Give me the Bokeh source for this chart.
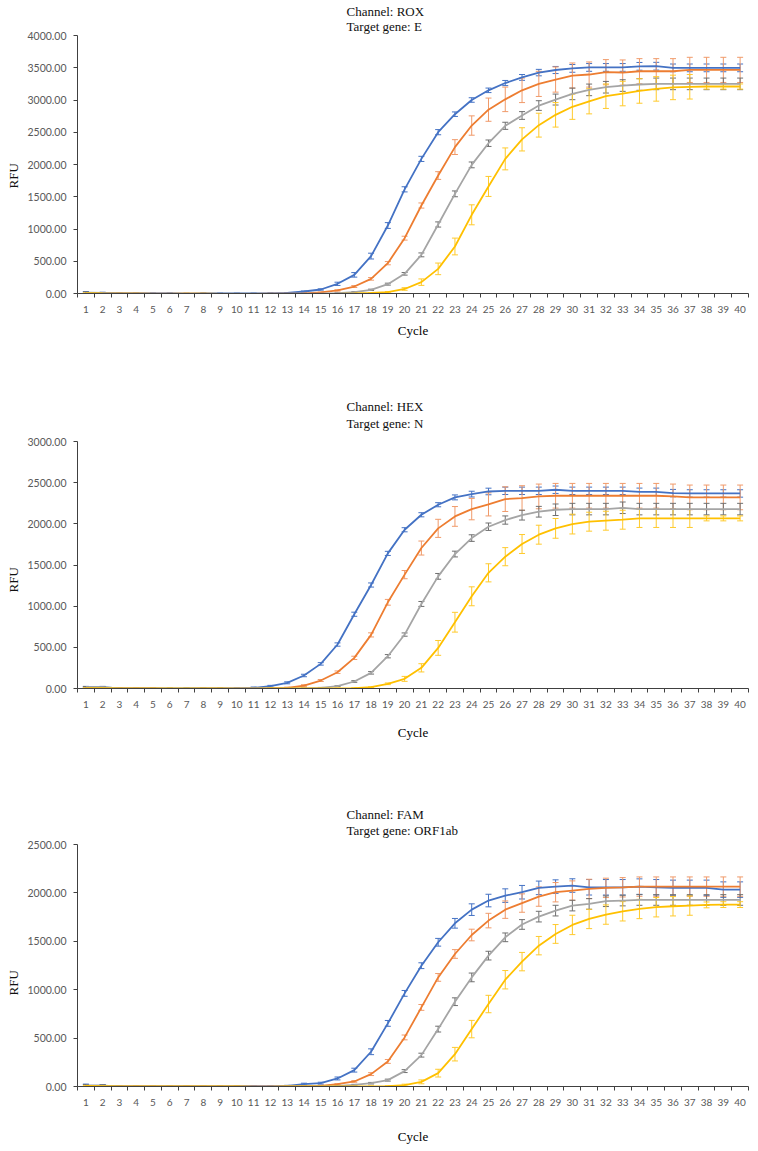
from bokeh.plotting import figure
from bokeh.models import (Range1d, FixedTicker, PrintfTickFormatter, Title,
                          Whisker, TeeHead, ColumnDataSource)
from bokeh.layouts import column
from bokeh.embed import file_html
from bokeh.resources import INLINE

cycles = list(range(1, 41))
cycle_labels = [str(c) for c in cycles]

# ---------------- Channel ROX / gene E ----------------
rox_s1 = [15, 10, 2, 0, 0, 0, -2, 0, 0, 0, 0, 2, 8, 31, 62, 150, 289, 580, 1054, 1615,
          2087, 2501, 2780, 3000, 3150, 3263, 3350, 3425, 3465, 3490,
          3505, 3505, 3505, 3522, 3524, 3498, 3498, 3498, 3498, 3498]
rox_s2 = [0, 0, 0, 0, -3, -3, -3, -3, -5, -5, -5, -3, -2, 3, 18, 47, 108, 227, 470, 858,
          1364, 1829, 2270, 2604, 2850, 3010, 3150, 3250, 3317, 3379,
          3395, 3431, 3426, 3446, 3446, 3446, 3467, 3467, 3467, 3467]
rox_s3 = [10, 5, 0, 0, 0, 0, -5, -5, -3, -3, -3, -3, -3, -3, -2, 5, 20, 57, 145, 305,
          599, 1070, 1545, 1994, 2330, 2600, 2760, 2914, 3007, 3095,
          3157, 3198, 3224, 3240, 3250, 3250, 3250, 3250, 3250, 3250]
rox_s4 = [5, 0, -3, -3, -5, -5, -3, -3, -5, -8, -8, -5, -5, -8, -8, -5, 0, 8, 20, 70,
          176, 382, 729, 1220, 1660, 2087, 2390, 2610, 2770, 2895,
          2980, 3059, 3100, 3140, 3172, 3195, 3205, 3209, 3209, 3209]
rox_s1_sd = [15, 10, 5, 5, 5, 5, 5, 5, 5, 5, 5, 5, 5, 8, 10, 25, 35, 45, 45, 40,
             40, 40, 35, 35, 35, 40, 45, 50, 55, 60,
             60, 60, 60, 60, 60, 60, 60, 60, 60, 60]
rox_s2_sd = [5, 5, 5, 5, 5, 5, 5, 5, 5, 5, 5, 5, 5, 5, 5, 10, 15, 20, 25, 30,
             40, 60, 115, 150, 180, 190, 190, 195, 195, 195,
             195, 195, 195, 195, 195, 195, 195, 195, 195, 195]
rox_s3_sd = [15, 10, 5, 5, 5, 5, 5, 5, 5, 5, 5, 5, 5, 5, 5, 5, 8, 10, 15, 20,
             30, 40, 45, 45, 50, 55, 60, 75, 85, 90,
             90, 90, 90, 90, 90, 90, 90, 90, 90, 90]
rox_s4_sd = [5, 5, 5, 5, 5, 5, 5, 5, 5, 5, 5, 5, 5, 5, 5, 5, 5, 5, 10, 20,
             50, 90, 130, 155, 155, 170, 180, 185, 190, 195,
             195, 190, 190, 190, 190, 190, 190, 40, 40, 40]

# ---------------- Channel HEX / gene N ----------------
hex_s1 = [15, 15, 0, 0, 0, -3, 0, 0, 0, 0, 8, 28, 69, 158, 299, 534, 902, 1257, 1641, 1928,
          2110, 2232, 2321, 2361, 2393, 2401, 2401, 2401, 2414, 2401,
          2401, 2401, 2401, 2389, 2389, 2373, 2369, 2369, 2369, 2369]
hex_s2 = [0, 0, 0, 0, 0, -8, -5, -3, -3, -3, -3, 0, 8, 36, 97, 198, 372, 651, 1047, 1383,
          1706, 1945, 2090, 2179, 2236, 2300, 2313, 2333, 2341, 2341,
          2341, 2341, 2341, 2341, 2341, 2333, 2321, 2321, 2321, 2321]
hex_s3 = [15, 15, 0, 0, 0, 0, -3, 0, 0, 0, 0, 0, 0, 0, 8, 28, 85, 190, 392, 655,
          1027, 1362, 1633, 1827, 1965, 2046, 2106, 2147, 2171, 2179,
          2179, 2179, 2195, 2179, 2179, 2179, 2179, 2179, 2179, 2179]
hex_s4 = [5, 3, 0, 0, 0, 0, 0, 0, 0, -3, -3, 0, 0, 0, 0, 0, 4, 16, 57, 117,
          251, 493, 805, 1120, 1405, 1601, 1755, 1868, 1945, 1997,
          2026, 2038, 2050, 2066, 2066, 2066, 2066, 2066, 2066, 2066]
hex_s1_sd = [10, 10, 5, 5, 5, 5, 5, 5, 5, 5, 10, 10, 12, 15, 15, 20, 25, 25, 25, 25,
             25, 25, 30, 35, 40, 45, 45, 45, 45, 45,
             45, 45, 45, 45, 45, 45, 45, 45, 45, 45]
hex_s2_sd = [5, 5, 5, 5, 5, 5, 5, 5, 5, 5, 5, 5, 8, 10, 12, 15, 20, 25, 35, 50,
             85, 110, 120, 130, 140, 150, 150, 150, 150, 150,
             150, 150, 150, 150, 150, 150, 150, 150, 150, 150]
hex_s3_sd = [10, 10, 5, 5, 5, 5, 5, 5, 5, 5, 5, 5, 5, 5, 5, 5, 10, 15, 20, 20,
             30, 35, 35, 40, 45, 50, 60, 65, 70, 70,
             70, 70, 70, 70, 70, 70, 70, 70, 70, 70]
hex_s4_sd = [5, 5, 5, 5, 5, 5, 5, 5, 5, 5, 5, 5, 5, 5, 5, 5, 5, 5, 10, 30,
             50, 90, 120, 115, 110, 110, 115, 115, 120, 120,
             115, 115, 115, 110, 110, 110, 110, 30, 30, 30]

# ---------------- Channel FAM / gene ORF1ab ----------------
fam_s1 = [10, 10, 0, 0, 0, 0, 0, 0, 0, 0, 3, 0, 7, 24, 34, 83, 169, 359, 652, 962,
          1248, 1490, 1686, 1827, 1921, 1972, 2007, 2052, 2065, 2076,
          2058, 2058, 2058, 2065, 2058, 2052, 2052, 2052, 2034, 2034]
fam_s2 = [-10, 0, 0, 0, 0, 0, 0, 0, 0, 0, 0, 0, 0, 0, 7, 24, 52, 128, 259, 507,
          817, 1127, 1369, 1565, 1714, 1827, 1895, 1962, 2007, 2024,
          2041, 2052, 2058, 2065, 2065, 2065, 2065, 2065, 2065, 2065]
fam_s3 = [10, 10, 0, 0, 0, 0, 0, 0, 0, 0, 0, 0, 0, 0, 0, 5, 17, 34, 66, 159,
          324, 593, 876, 1127, 1352, 1541, 1674, 1755, 1817, 1869,
          1886, 1914, 1921, 1927, 1927, 1927, 1927, 1927, 1927, 1927]
fam_s4 = [5, 3, 0, 0, 0, 0, 0, 0, 0, 0, -3, -3, 0, 0, 0, 0, 0, 0, 3, 14,
          48, 138, 334, 593, 852, 1103, 1290, 1455, 1576, 1669,
          1731, 1776, 1810, 1834, 1852, 1862, 1869, 1876, 1879, 1879]
fam_s1_sd = [15, 10, 5, 5, 5, 5, 5, 5, 5, 5, 5, 5, 5, 10, 10, 15, 20, 30, 30, 30,
             30, 40, 50, 60, 65, 70, 70, 70, 70, 70,
             80, 80, 80, 80, 80, 80, 80, 80, 80, 80]
fam_s2_sd = [5, 5, 5, 5, 5, 5, 5, 5, 5, 5, 5, 5, 5, 5, 5, 5, 8, 15, 20, 25,
             30, 40, 45, 60, 75, 90, 95, 100, 100, 100,
             100, 100, 100, 100, 100, 100, 100, 100, 100, 100]
fam_s3_sd = [10, 10, 5, 5, 5, 5, 5, 5, 5, 5, 5, 5, 5, 5, 5, 5, 5, 8, 10, 15,
             20, 30, 40, 45, 45, 45, 50, 55, 55, 55,
             55, 55, 55, 55, 55, 55, 55, 55, 55, 55]
fam_s4_sd = [5, 5, 5, 5, 5, 5, 5, 5, 5, 5, 5, 5, 5, 5, 5, 5, 5, 5, 5, 10,
             20, 40, 70, 90, 90, 95, 95, 95, 97, 100,
             100, 100, 100, 100, 100, 100, 100, 30, 30, 30]

line_colors = ["#4472C4", "#ED7D31", "#A5A5A5", "#FFC000"]
bar_colors = ["#4472C4", "#F09A6A", "#6F6F6F", "#FFCA2C"]

SERIF = "Liberation Serif"
SANS = "Lato"
TICK_COLOR = "#595959"
AXIS_COLOR = "#404040"

panels = [
    dict(ch="Channel: ROX", gene="Target gene: E", ymax=4000,
         series=[rox_s1, rox_s2, rox_s3, rox_s4],
         sds=[rox_s1_sd, rox_s2_sd, rox_s3_sd, rox_s4_sd],
         height=388, top=35, frame=258, spacer=None, ch_standoff=0,
         rfu_offset=105, standoff=7),
    dict(ch="Channel: HEX", gene="Target gene: N", ymax=3000,
         series=[hex_s1, hex_s2, hex_s3, hex_s4],
         sds=[hex_s1_sd, hex_s2_sd, hex_s3_sd, hex_s4_sd],
         height=378, top=53, frame=247, spacer=6, ch_standoff=4,
         rfu_offset=96, standoff=14),
    dict(ch="Channel: FAM", gene="Target gene: ORF1ab", ymax=2500,
         series=[fam_s1, fam_s2, fam_s3, fam_s4],
         sds=[fam_s1_sd, fam_s2_sd, fam_s3_sd, fam_s4_sd],
         height=383, top=78, frame=242, spacer=2, ch_standoff=2,
         rfu_offset=91, standoff=20),
]

figs = []
for cfg in panels:
    bottom = cfg["height"] - cfg["top"] - cfg["frame"]
    p = figure(width=756, height=cfg["height"], output_backend="svg",
               toolbar_location=None,
               x_range=Range1d(0.5, 40.5), y_range=Range1d(0, cfg["ymax"]),
               min_border_left=74, min_border_right=8,
               min_border_top=cfg["top"], min_border_bottom=bottom)
    p.outline_line_color = None
    p.xgrid.visible = False
    p.ygrid.visible = False

    # x axis (category style: tick marks on the boundaries between cycles)
    xa = p.xaxis[0]
    xa.ticker = FixedTicker(ticks=cycles, minor_ticks=[c - 0.5 for c in cycles] + [40.5])
    xa.major_label_overrides = {c: lab for c, lab in zip(cycles, cycle_labels)}
    xa.major_tick_line_color = None
    xa.major_tick_out = 4
    xa.major_tick_in = 0
    xa.minor_tick_line_color = AXIS_COLOR
    xa.minor_tick_out = 4
    xa.minor_tick_in = 0
    xa.axis_line_color = AXIS_COLOR
    xa.major_label_text_font = SANS
    xa.major_label_text_font_size = "10px"
    xa.major_label_text_color = TICK_COLOR
    xa.major_label_standoff = 8
    xa.axis_label = "Cycle"
    xa.axis_label_text_font = SERIF
    xa.axis_label_text_font_size = "13px"
    xa.axis_label_text_font_style = "normal"
    xa.axis_label_text_color = "#000000"
    xa.axis_label_standoff = cfg["standoff"]

    ya = p.yaxis[0]
    ya.ticker = FixedTicker(ticks=list(range(0, cfg["ymax"] + 1, 500)))
    ya.formatter = PrintfTickFormatter(format="%.2f")
    ya.major_tick_out = 4
    ya.major_tick_in = 0
    ya.major_tick_line_color = AXIS_COLOR
    ya.minor_tick_line_color = None
    ya.axis_line_color = AXIS_COLOR
    ya.major_label_text_font = SANS
    ya.major_label_text_font_size = "10.5px"
    ya.major_label_text_color = TICK_COLOR
    ya.major_label_standoff = 7

    for vals, sd, lc, bc in zip(cfg["series"], cfg["sds"], line_colors, bar_colors):
        src = ColumnDataSource(dict(
            x=cycles, y=vals,
            upper=[v + s for v, s in zip(vals, sd)],
            lower=[v - s for v, s in zip(vals, sd)]))
        p.line("x", "y", source=src, line_color=lc, line_width=1.8)
        w = Whisker(base="x", upper="upper", lower="lower", source=src,
                    line_color=bc, line_width=1,
                    upper_head=TeeHead(size=6, line_color=bc, line_width=1),
                    lower_head=TeeHead(size=6, line_color=bc, line_width=1))
        p.add_layout(w)

    # two-line heading above the plot area (stacked outward from the frame)
    if cfg["spacer"] is not None:
        p.add_layout(Title(text=" ", text_font_size="1px", standoff=cfg["spacer"]), "above")
    p.add_layout(Title(text=cfg["gene"], align="left", offset=269, standoff=0,
                       vertical_align="top", text_font=SERIF, text_font_size="13px",
                       text_font_style="normal", text_color="#111111"), "above")
    p.add_layout(Title(text=cfg["ch"], align="left", offset=269,
                       standoff=cfg["ch_standoff"], vertical_align="bottom",
                       text_font=SERIF, text_font_size="13px",
                       text_font_style="normal", text_color="#111111"), "above")
    # y axis title
    p.add_layout(Title(text="RFU", align="left", offset=cfg["rfu_offset"], standoff=7,
                       vertical_align="bottom", text_font=SERIF, text_font_size="13px",
                       text_font_style="normal", text_color="#111111"), "left")
    figs.append(p)

layout = column(*figs, spacing=0)
open("out.html", "w").write(file_html(layout, INLINE))
